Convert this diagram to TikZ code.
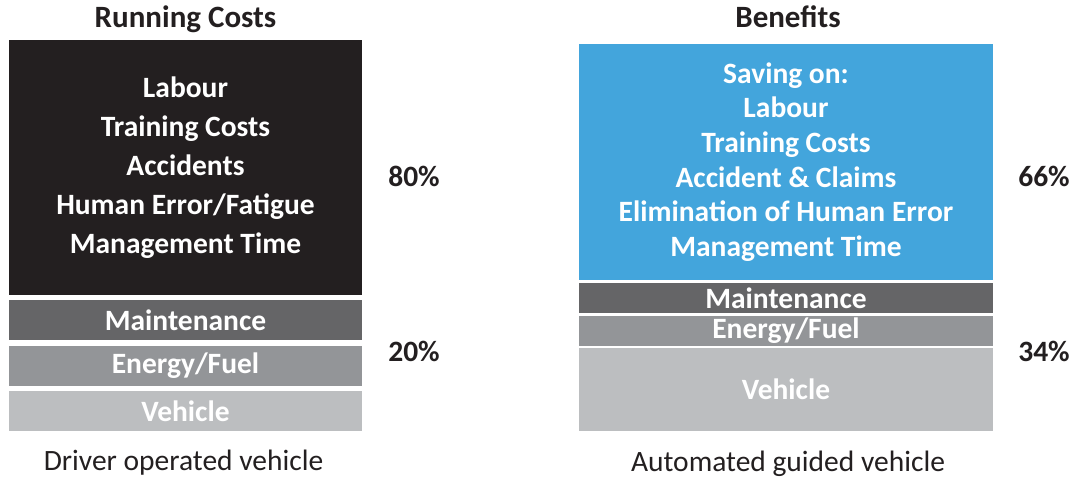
\documentclass[tikz,border=0pt]{standalone}
\usepackage{fontspec}
\setmainfont{Carlito}
\definecolor{inkdark}{HTML}{231F20}
\definecolor{boxblack}{HTML}{231F20}
\definecolor{boxblue}{HTML}{43A5DC}
\definecolor{maintgray}{HTML}{656567}
\definecolor{energygray}{HTML}{939598}
\definecolor{vehiclegray}{HTML}{BCBEC0}
\tikzset{
  barbox/.style={inner sep=0pt, outer sep=0pt, text=white, align=center,
    font=\bfseries\fontsize{29.5bp}{39bp}\selectfont},
  heading/.style={inner sep=0pt, anchor=base, text=inkdark,
    font=\bfseries\fontsize{31bp}{36bp}\selectfont},
  pct/.style={inner sep=0pt, anchor=base, text=inkdark,
    font=\bfseries\fontsize{29.5bp}{36bp}\selectfont},
  caption/.style={inner sep=0pt, anchor=base, text=inkdark,
    font=\fontsize{29.5bp}{36bp}\selectfont},
}
\begin{document}
\begin{tikzpicture}[x=1bp,y=-1bp]
\useasboundingbox[fill=white] (0,0) rectangle (1074,478);

% Left column: driver operated vehicle
\node[heading] (lhead) at (185.5,28) {Running Costs};
\node[barbox, fill=boxblack, minimum width=353bp, minimum height=255bp] (lmain) at (185.5,167.5)
  {Labour\\Training Costs\\Accidents\\Human Error/Fatigue\\Management Time};
\node[barbox, fill=maintgray, minimum width=353bp, minimum height=40bp] (lmaint) at (185.5,320) {Maintenance};
\node[barbox, fill=energygray, minimum width=353bp, minimum height=40bp] (lenergy) at (185.5,366) {Energy/Fuel};
\node[barbox, fill=vehiclegray, minimum width=353bp, minimum height=40bp] (lvehicle) at (185.5,411) {Vehicle};
\node[pct] (lpcttop) at (414,187) {80\%};
\node[pct] (lpctbot) at (414,362) {20\%};
\node[caption] (lcap) at (183.5,470) {Driver operated vehicle};

% Right column: automated guided vehicle
\node[heading] (rhead) at (788,28) {Benefits};
\node[barbox, fill=boxblue, minimum width=414bp, minimum height=236bp,
  font=\bfseries\fontsize{29.5bp}{34.6bp}\selectfont] (rmain) at (786,162)
  {Saving on:\\Labour\\Training Costs\\Accident \& Claims\\Elimination of Human Error\\Management Time};
\node[barbox, fill=maintgray, minimum width=414bp, minimum height=30bp] (rmaint) at (786,298) {Maintenance};
\node[barbox, fill=energygray, minimum width=414bp, minimum height=30bp] (renergy) at (786,331) {Energy/Fuel};
\node[barbox, fill=vehiclegray, minimum width=414bp, minimum height=83bp] (rvehicle) at (786,389.5) {Vehicle};
\node[pct] (rpcttop) at (1044,187) {66\%};
\node[pct] (rpctbot) at (1044,362) {34\%};
\node[caption] (rcap) at (788,471) {Automated guided vehicle};
\end{tikzpicture}
\end{document}
